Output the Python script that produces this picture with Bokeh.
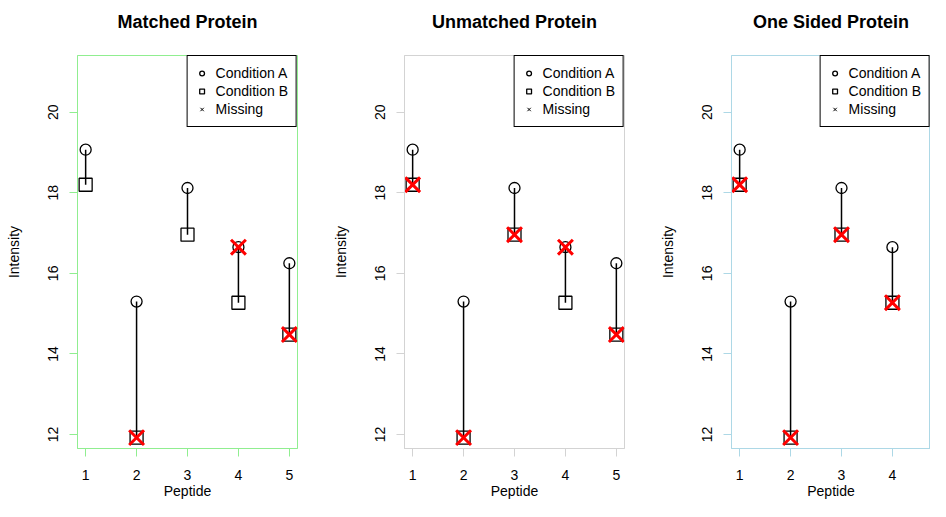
from bokeh.plotting import figure
from bokeh.layouts import row
from bokeh.models import Range1d, FixedTicker, Legend, LegendItem, ColumnDataSource, Title
from bokeh.embed import file_html
from bokeh.resources import INLINE

# ---- data ----
peptides = [1, 2, 3, 4, 5]
cond_a = [19.07, 15.30, 18.12, 16.65, 16.25]
cond_b = [18.20, 11.92, 16.96, 15.27, 14.48]

titles = ["Matched Protein", "Unmatched Protein", "One Sided Protein"]
frame_colors = ["#90EE90", "#D3D3D3", "#ADD8E6"]

matched_missing_a = [False, False, False, True, False]
matched_missing_b = [False, True, False, False, True]
unmatched_missing_a = [False, False, False, True, False]
unmatched_missing_b = [True, True, True, False, True]
onesided_missing_a = [False, False, False, False, False]
onesided_missing_b = [True, True, True, True, True]

x_ticks = [1, 2, 3, 4, 5]
y_ticks = [12, 14, 16, 18, 20]
legend_labels = ["Condition A", "Condition B", "Missing"]
x_label = "Peptide"
y_label = "Intensity"

FONT = "Liberation Sans"
Y0, Y1 = 11.65, 21.41
X0, X1 = 0.84, 5.16
PX_PER_X = 220 / (X1 - X0)
ML, MR, MT, MB = 77, 30, 55, 53
H = 501


def make_panel(title, color, miss_a, miss_b, width, clipped=False):
    mr = 0 if clipped else MR
    frame_w = width - ML - mr
    x_end = X0 + frame_w / PX_PER_X
    p = figure(width=width, height=H, output_backend="svg", toolbar_location=None,
               title=None,
               x_range=Range1d(X0, x_end), y_range=Range1d(Y0, Y1),
               min_border_left=ML, min_border_right=mr,
               min_border_top=MT, min_border_bottom=MB)
    p.xgrid.visible = False
    p.ygrid.visible = False
    p.background_fill_color = "white"
    p.border_fill_color = "white"
    p.outline_line_color = color
    p.outline_line_width = 1
    p.outline_line_alpha = 1

    # spacer between frame and title, then the title itself
    p.add_layout(Title(text=" ", text_font_size="1px", standoff=14), "above")
    p.add_layout(Title(text=title, text_font=FONT, text_font_size="18px",
                       text_font_style="bold", align="center", vertical_align="top",
                       text_color="#000000", standoff=10), "above")

    for ax, ticks, lab in ((p.xaxis[0], x_ticks, x_label), (p.yaxis[0], y_ticks, y_label)):
        ax.ticker = FixedTicker(ticks=ticks)
        ax.minor_tick_line_color = None
        ax.major_tick_in = 0
        ax.major_tick_out = 8
        ax.axis_line_color = color
        ax.major_tick_line_color = color
        ax.major_label_text_font = FONT
        ax.major_label_text_font_size = "14px"
        ax.major_label_text_color = "#000000"
        ax.axis_label = lab
        ax.axis_label_text_font = FONT
        ax.axis_label_text_font_size = "14px"
        ax.axis_label_text_font_style = "normal"
        ax.axis_label_text_color = "#000000"
    p.xaxis[0].major_label_standoff = 13
    p.xaxis[0].axis_label_standoff = 0
    p.yaxis[0].major_label_orientation = "vertical"
    p.yaxis[0].major_label_standoff = 11
    p.yaxis[0].axis_label_standoff = 24

    src = ColumnDataSource(dict(x=peptides, a=cond_a, b=cond_b))
    p.segment(x0="x", y0="a", x1="x", y1="b", source=src, line_color="black", line_width=1.5)
    r_a = p.scatter("x", "a", source=src, marker="circle", size=11, fill_color=None,
                    line_color="black", line_width=1.3)
    r_b = p.scatter("x", "b", source=src, marker="square", size=13, fill_color=None,
                    line_color="black", line_width=1.3)
    # legend-only marker (invisible in plot)
    r_leg = p.scatter("x", "a", source=src, marker="x", size=0, line_color="black", line_width=1)

    mx = [x for x, m in zip(peptides, miss_a) if m] + [x for x, m in zip(peptides, miss_b) if m]
    my = [y for y, m in zip(cond_a, miss_a) if m] + [y for y, m in zip(cond_b, miss_b) if m]
    p.scatter(mx, my, marker="x", size=21, line_color="#FF0000", line_width=3)

    legend = Legend(items=[LegendItem(label=legend_labels[0], renderers=[r_a]),
                           LegendItem(label=legend_labels[1], renderers=[r_b]),
                           LegendItem(label=legend_labels[2], renderers=[r_leg])])
    legend.location = "top_right"
    legend.margin = 0
    legend.padding = 8
    legend.spacing = 0
    legend.glyph_width = 12
    legend.glyph_height = 18
    legend.label_height = 18
    legend.label_standoff = 8
    legend.label_text_font = FONT
    legend.label_text_font_size = "14px"
    legend.label_text_color = "#000000"
    legend.border_line_color = "black"
    legend.border_line_width = 1.3
    legend.border_line_alpha = 1
    legend.background_fill_color = "white"
    legend.background_fill_alpha = 1
    p.add_layout(legend, "center")
    return p


p1 = make_panel(titles[0], frame_colors[0], matched_missing_a, matched_missing_b, 327)
p2 = make_panel(titles[1], frame_colors[1], unmatched_missing_a, unmatched_missing_b, 327)
p3 = make_panel(titles[2], frame_colors[2], onesided_missing_a, onesided_missing_b, 276, clipped=True)

layout = row(p1, p2, p3)
open("out.html", "w").write(file_html(layout, INLINE))
